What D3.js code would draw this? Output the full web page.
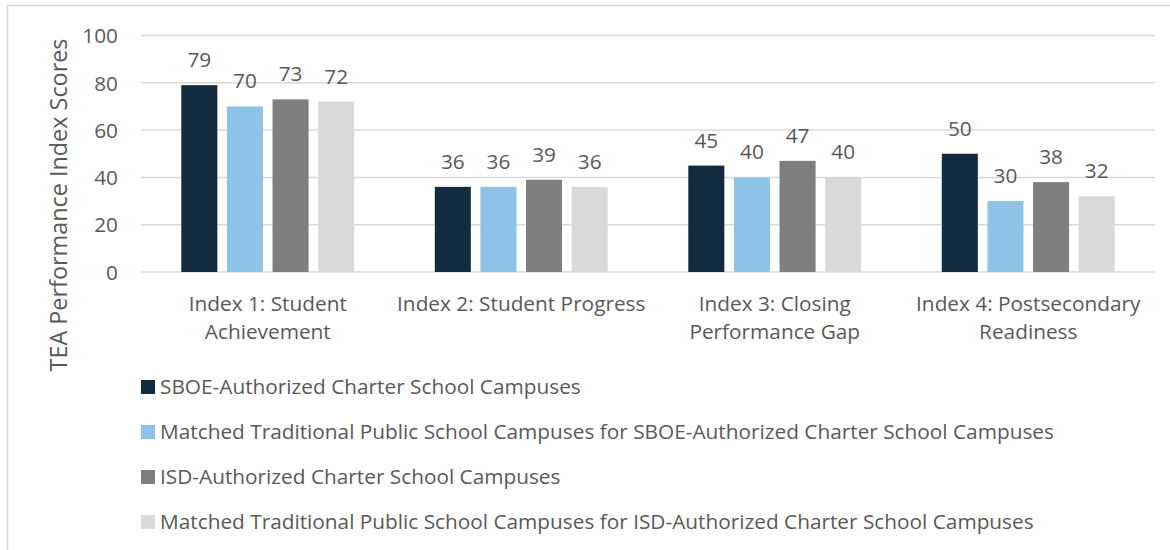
<!DOCTYPE html>
<html><head><meta charset="utf-8">
<script src="https://cdn.jsdelivr.net/npm/d3@7"></script>
<style>
html,body{margin:0;padding:0;background:#fff;}
svg{display:block;}
text{font-family:"Open Sans",sans-serif;fill:#595959;}
</style></head><body>
<svg id="chart" width="1170" height="550"></svg>
<script>
const categories = [
  ["Index 1: Student", "Achievement"],
  ["Index 2: Student Progress"],
  ["Index 3: Closing", "Performance Gap"],
  ["Index 4: Postsecondary", "Readiness"]
];
const seriesNames = [
  "SBOE-Authorized Charter School Campuses",
  "Matched Traditional Public School Campuses for SBOE-Authorized Charter School Campuses",
  "ISD-Authorized Charter School Campuses",
  "Matched Traditional Public School Campuses for ISD-Authorized Charter School Campuses"
];
const sboe = [79, 36, 45, 50];
const sboeMatched = [70, 36, 40, 30];
const isd = [73, 39, 47, 38];
const isdMatched = [72, 36, 40, 32];
const yTicks = [0, 20, 40, 60, 80, 100];
const colors = ["#132b3f", "#8cc3e6", "#7f7f7f", "#d9d9d9"];
const yTitle = "TEA Performance Index Scores";

const seriesValues = [sboe, sboeMatched, isd, isdMatched];
const FS = 20.8;

const svg = d3.select("#chart");
const margin = {left: 141, top: 35.5, right: 15, bottom: 278};
const W = 1170 - margin.left - margin.right;
const H = 550 - margin.top - margin.bottom;

// frame
svg.append("rect").attr("x", 7.5).attr("y", 5.5).attr("width", 1170).attr("height", 560)
  .attr("fill", "none").attr("stroke", "#d9d9d9").attr("stroke-width", 1.5);

const g = svg.append("g").attr("transform", `translate(${margin.left},${margin.top})`);

const catIdx = categories.map((d, i) => i);
const x0 = d3.scaleBand().domain(catIdx).range([0, W]).paddingInner(0.318).paddingOuter(0.159);
const x1 = d3.scaleBand().domain(d3.range(seriesNames.length)).range([0, x0.bandwidth()]).paddingInner(0.21);
const y = d3.scaleLinear().domain([0, 100]).range([H, 0]);

// gridlines
g.append("g").selectAll("line").data(yTicks).join("line")
  .attr("x1", 0).attr("x2", W).attr("y1", d => y(d)).attr("y2", d => y(d))
  .attr("stroke", "#d9d9d9").attr("stroke-width", 1.5);

// y axis labels
const yAxis = d3.axisLeft(y).tickValues(yTicks).tickSize(0).tickPadding(23);
const ya = g.append("g").call(yAxis);
ya.select(".domain").remove();
ya.selectAll("text").attr("font-size", FS).style("font-family", "'Open Sans', sans-serif").attr("fill", "#595959").attr("dy", "0.35em");

// bars
const groups = g.append("g").selectAll("g").data(catIdx).join("g")
  .attr("transform", i => `translate(${x0(i)},0)`);
groups.selectAll("rect").data(i => seriesValues.map((s, k) => ({k, v: s[i]}))).join("rect")
  .attr("x", d => x1(d.k)).attr("width", x1.bandwidth())
  .attr("y", d => y(d.v)).attr("height", d => H - y(d.v))
  .attr("fill", d => colors[d.k]);
groups.selectAll("text.lbl").data(i => seriesValues.map((s, k) => ({k, v: s[i]}))).join("text")
  .attr("class", "lbl")
  .attr("x", d => x1(d.k) + x1.bandwidth() / 2).attr("y", d => y(d.v) - 18)
  .attr("text-anchor", "middle").attr("font-size", FS).text(d => d.v);

// category labels
const xl = g.append("g").attr("transform", `translate(0,${H})`);
categories.forEach((lines, i) => {
  const t = xl.append("text").attr("text-anchor", "middle").attr("font-size", FS)
    .attr("x", x0(i) + x0.bandwidth() / 2).attr("y", 39);
  lines.forEach((ln, j) => t.append("tspan").attr("x", x0(i) + x0.bandwidth() / 2).attr("dy", j === 0 ? 0 : 28).text(ln));
});

// y title
svg.append("text").attr("transform", `translate(67,205) rotate(-90)`)
  .attr("text-anchor", "middle").attr("font-size", 23.4).text(yTitle);

// legend
const leg = svg.append("g").attr("transform", "translate(141,380)");
const li = leg.selectAll("g").data(seriesNames).join("g")
  .attr("transform", (d, i) => `translate(0,${i * 45})`);
li.append("rect").attr("width", 14).attr("height", 14).attr("fill", (d, i) => colors[i]);
li.append("text").attr("x", 19).attr("y", 7).attr("dy", "0.35em").attr("font-size", FS).text(d => d);
</script>
</body></html>
